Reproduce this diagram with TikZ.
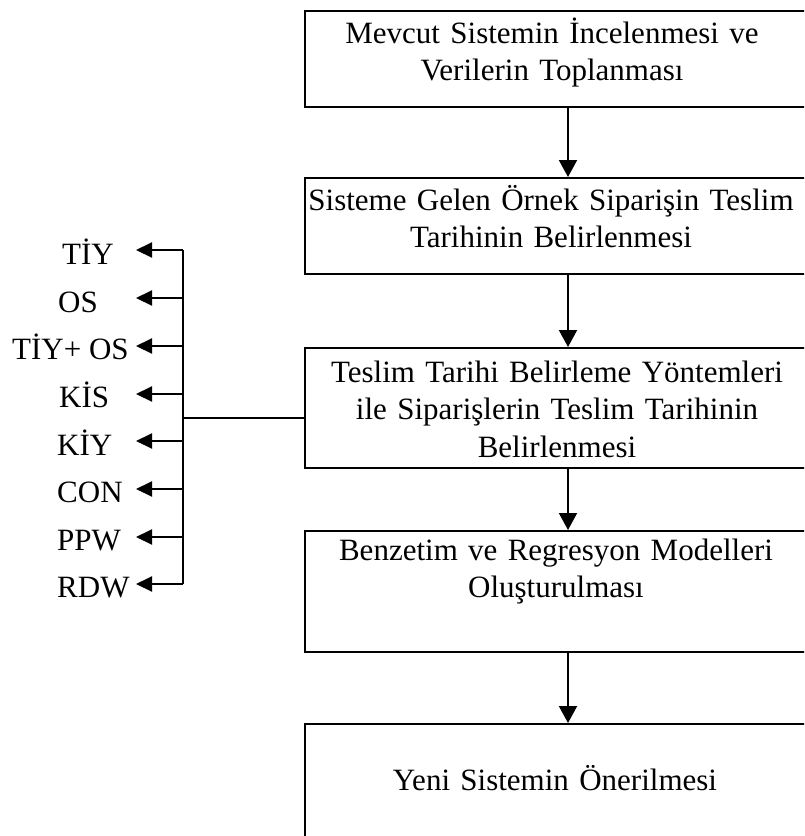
\documentclass[tikz,border=0pt]{standalone}
\usepackage{fontspec}
\setmainfont{Liberation Serif}
\usetikzlibrary{arrows.meta}

\tikzset{
  stepbox/.style={draw=black, line width=2pt, fill=none, inner sep=0pt, anchor=north west,
                  minimum width=506pt},
  boxtext/.style={inner sep=0pt, anchor=base, text width=580pt, align=center,
                  font=\fontsize{31}{37.5}\selectfont},
  method/.style={inner sep=0pt, anchor=base west, font=\fontsize{31}{37}\selectfont},
  flow/.style={line width=2pt, -{Triangle[length=17pt,width=18pt]}},
  branch/.style={line width=2pt, -{Triangle[length=16pt,width=15pt]}},
  bus/.style={line width=2pt},
  feed/.style={line width=1.2pt}
}

\begin{document}
\begin{tikzpicture}[x=1pt,y=-1pt]
  \useasboundingbox (0,0) rectangle (804,836);
  \clip (0,0) rectangle (804,836);
  \fill[white] (0,0) rectangle (804,836);

  % process boxes (they run past the right and bottom edges)
  \node[stepbox, minimum height=96pt]  (b1) at (304,10)  {};
  \node[stepbox, minimum height=96pt]  (b2) at (304,177) {};
  \node[stepbox, minimum height=120pt] (b3) at (304,347) {};
  \node[stepbox, minimum height=121pt] (b4) at (304,530) {};
  \node[stepbox, minimum height=140pt] (b5) at (304,723) {};

  % box captions
  \node[boxtext] (t1) at (552,43)  {Mevcut Sistemin İncelenmesi ve\\Verilerin Toplanması};
  \node[boxtext] (t2) at (551,210) {Sisteme Gelen Örnek Siparişin Teslim\\Tarihinin Belirlenmesi};
  \node[boxtext] (t3) at (557,382) {Teslim Tarihi Belirleme Yöntemleri\\ile Siparişlerin Teslim Tarihinin\\Belirlenmesi};
  \node[boxtext] (t4) at (556,560) {Benzetim ve Regresyon Modelleri\\Oluşturulması};
  \node[boxtext] (t5) at (555,790) {Yeni Sistemin Önerilmesi};

  % main flow arrows
  \coordinate (ax) at (568,0);
  \draw[flow] (b1.south -| ax) -- (b2.north -| ax);
  \draw[flow] (b2.south -| ax) -- (b3.north -| ax);
  \draw[flow] (b3.south -| ax) -- (b4.north -| ax);
  \draw[flow] (b4.south -| ax) -- (b5.north -| ax);

  % due-date rule labels
  \node[method] (m1) at (62,264) {TİY};
  \node[method] (m2) at (58,312) {OS};
  \node[method] (m3) at (12,359) {TİY+ OS};
  \node[method] (m4) at (59,407) {KİS};
  \node[method] (m5) at (57,455) {KİY};
  \node[method] (m6) at (57,502) {CON};
  \node[method] (m7) at (57,550) {PPW};
  \node[method] (m8) at (57,597) {RDW};

  % bus from the third box to the rule list
  \coordinate (j)    at (183,418);
  \coordinate (btop) at (183,250);
  \coordinate (bbot) at (183,584);
  \draw[feed] (j) -- (j -| b3.west);
  \draw[bus] (btop) -- (bbot);

  \foreach \k/\yy in {1/250,2/298,3/346,4/394,5/441,6/489,7/537,8/584}{
    \coordinate (tip\k) at (136,\yy);
    \draw[branch] (183,\yy) -- (tip\k);
  }
\end{tikzpicture}
\end{document}
